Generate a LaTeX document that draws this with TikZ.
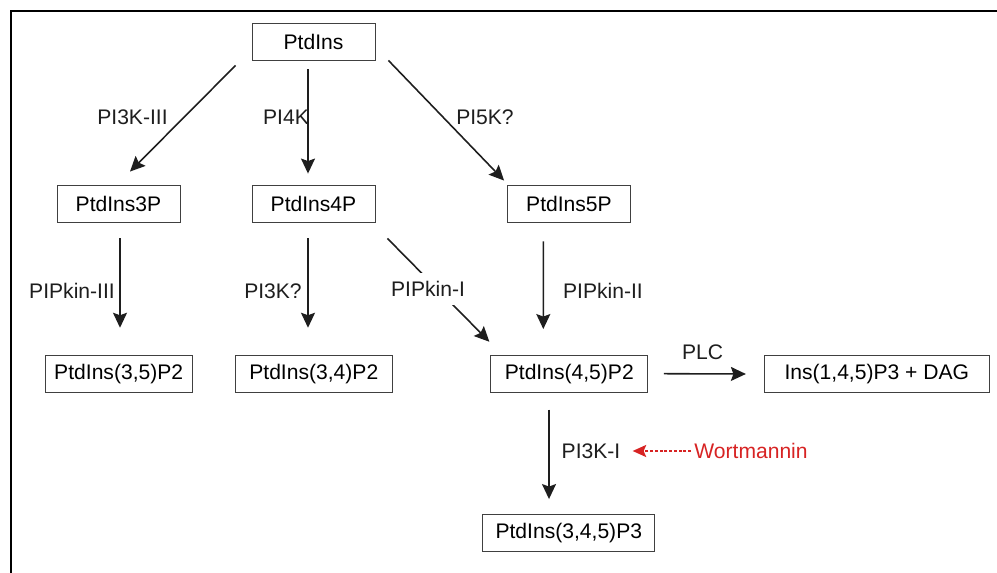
\documentclass[tikz,border=0pt]{standalone}
\usepackage{fontspec}
\setmainfont{Liberation Sans}
\usepackage{tikz}
\usetikzlibrary{arrows.meta}
\definecolor{ink}{RGB}{30,30,30}
\definecolor{wortred}{RGB}{215,35,35}
\tikzset{box/.style = {draw=ink!85, line width=0.5pt, minimum height=0.74cm, inner sep=0pt},
         lbl/.style = {inner sep=0pt, text=ink},
         arr/.style = {-{Stealth[length=3mm, width=2.8mm, inset=0.5mm]}, line width=0.9pt, draw=ink},
         inhib/.style = {-{Stealth[length=2.7mm, width=2.4mm, inset=0.5mm]}, dash pattern=on 0.6mm off 0.35mm,
                         line width=1.1pt, draw=wortred}}

\begin{document}
\begin{tikzpicture}[x=0.02cm, y=-0.02cm, font=\fontsize{12pt}{14pt}\selectfont]
    \useasboundingbox (0, 0) rectangle (997, 573);
    \draw [line width=1.1pt] (11, 573) -- (11, 11) -- (997, 11);

    \node [box, minimum width=2.46cm] (ptdins) at (313.5, 41.5) {PtdIns};
    \node [box, minimum width=2.46cm] (p3p) at (118.5, 203.5) {PtdIns3P};
    \node [box, minimum width=2.46cm] (p4p) at (313.5, 203.5) {PtdIns4P};
    \node [box, minimum width=2.46cm] (p5p) at (569, 203.5) {PtdIns5P};
    \node [box, minimum width=2.94cm] (p35) at (118.7, 373.7) {PtdIns(3,5)P2};
    \node [box, minimum width=3.14cm] (p34) at (313.8, 373.7) {PtdIns(3,4)P2};
    \node [box, minimum width=3.14cm] (p45) at (569.3, 373.7) {PtdIns(4,5)P2};
    \node [box, minimum width=4.5cm] (ins) at (876.8, 374) {Ins(1,4,5)P3 + DAG};
    \node [box, minimum width=3.44cm] (p345) at (568.8, 533) {PtdIns(3,4,5)P3};

    \draw [arr] ([shift={(-16, 5)}]ptdins.south west) -- ([shift={(11.5, -13)}]p3p.north);
    \draw [arr] ([shift={(-5.5, 9)}]ptdins.south) -- ([shift={(-5.5, -11)}]p4p.north);
    \draw [arr] ([shift={(13, 0)}]ptdins.south east) -- ([shift={(-3, -4)}]p5p.north west);
    \draw [arr] ([shift={(1.5, 16)}]p3p.south) -- ([shift={(1.3, -27)}]p35.north);
    \draw [arr] ([shift={(-5.5, 16)}]p4p.south) -- ([shift={(-5.8, -27)}]p34.north);
    \draw [arr] ([shift={(12, 16)}]p4p.south east) -- ([shift={(-1, -13)}]p45.north west);
    \draw [arr] ([shift={(-25.7, 19)}]p5p.south) -- ([shift={(-26, -25.7)}]p45.north);
    \draw [arr] ([shift={(15.6, 0)}]p45.east) -- ([shift={(-18, 0)}]ins.west);
    \draw [arr] ([shift={(-20.3, 17)}]p45.south) -- ([shift={(-19.8, -15)}]p345.north);

    \node [lbl] (pi3kiii) at (132.5, 117) {PI3K-III};
    \node [lbl] (pi4k) at (286, 117) {PI4K};
    \node [lbl] (pi5k) at (485, 117) {PI5K?};
    \node [lbl] (pipkiniii) at (72, 291) {PIPkin-III};
    \node [lbl] (pi3kq) at (273, 291) {PI3K?};
    \node [lbl, fill=white, inner xsep=2pt, inner ysep=5pt] (pipkini) at (428, 289) {PIPkin-I};
    \node [lbl] (pipkinii) at (603, 291) {PIPkin-II};
    \node [lbl] (plc) at (702.5, 352) {PLC};
    \node [lbl] (pi3ki) at (591, 451) {PI3K-I};
    \node [lbl, text=wortred] (wort) at (751, 451) {Wortmannin};

    \draw [inhib] ([shift={(-3, 0)}]wort.west) -- ([shift={(12, 0)}]pi3ki.east);
  \end{tikzpicture}
\end{document}
